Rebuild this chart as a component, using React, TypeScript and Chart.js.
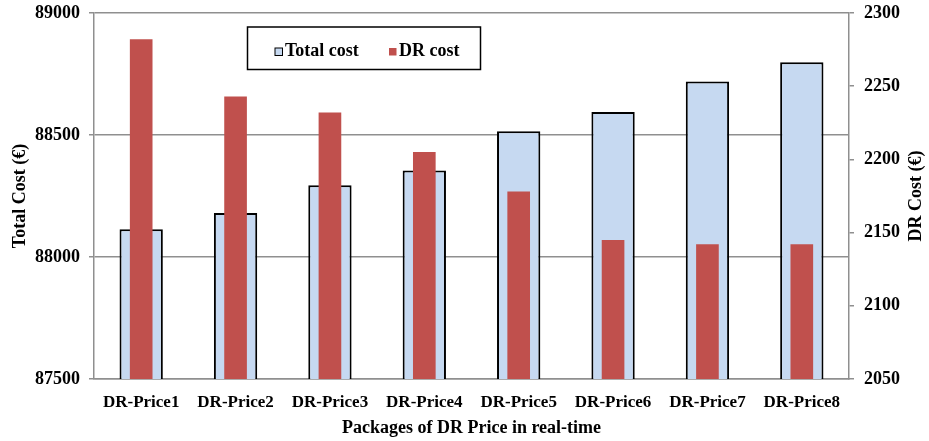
import React, { useEffect, useRef } from "react";
import { Chart, registerables } from "chart.js";

Chart.register(...registerables);

const categories = ["DR-Price1", "DR-Price2", "DR-Price3", "DR-Price4", "DR-Price5", "DR-Price6", "DR-Price7", "DR-Price8"];
const totalCost = [88114, 88180, 88294, 88354, 88515, 88594, 88719, 88798];
const drCost = [2282, 2243, 2232, 2205, 2178, 2145, 2142, 2142];
const seriesNames = ["Total cost", "DR cost"];
const leftTitle = "Total Cost (€)";
const rightTitle = "DR Cost (€)";
const xTitle = "Packages of DR Price in real-time";

const FONT = "'Liberation Serif', 'Times New Roman', serif";
const GRID = "#8f8f8f";
const BLUE = "#c6d9f1";
const RED = "#c0504d";

const overlayPlugin = {
  id: "overlay",
  afterDraw(chart: any) {
    const ctx = chart.ctx as CanvasRenderingContext2D;
    const area = chart.chartArea;
    ctx.save();
    // axis titles
    ctx.fillStyle = "#000";
    ctx.font = `bold 18px ${FONT}`;
    ctx.textAlign = "center";
    ctx.textBaseline = "middle";
    ctx.fillText(xTitle, (area.left + area.right) / 2, 428);
    ctx.save();
    ctx.translate(20, (area.top + area.bottom) / 2);
    ctx.rotate(-Math.PI / 2);
    ctx.fillText(leftTitle, 0, 0);
    ctx.restore();
    ctx.save();
    ctx.translate(916, (area.top + area.bottom) / 2);
    ctx.rotate(-Math.PI / 2);
    ctx.fillText(rightTitle, 0, 0);
    ctx.restore();

    // legend box
    const bx = 247.5, by = 27, bw = 233, bh = 42.5;
    ctx.fillStyle = "#fff";
    ctx.fillRect(bx, by, bw, bh);
    ctx.strokeStyle = "#000";
    ctx.lineWidth = 1.5;
    ctx.strokeRect(bx, by, bw, bh);

    ctx.font = `bold 18px ${FONT}`;
    ctx.textAlign = "left";
    ctx.textBaseline = "alphabetic";
    // Total cost marker
    ctx.fillStyle = BLUE;
    ctx.fillRect(275, 48, 7.5, 7.5);
    ctx.lineWidth = 1;
    ctx.strokeStyle = "#000";
    ctx.strokeRect(275, 48, 7.5, 7.5);
    ctx.fillStyle = "#000";
    ctx.fillText(seriesNames[0], 285, 55.5);
    // DR cost marker
    ctx.fillStyle = RED;
    ctx.fillRect(389, 48, 7.5, 7.5);
    ctx.fillStyle = "#000";
    ctx.fillText(seriesNames[1], 399, 55.5);
    ctx.restore();
  },
};

export default function App() {
  const canvasRef = useRef<HTMLCanvasElement | null>(null);

  useEffect(() => {
    if (!canvasRef.current) return;
    const tickFont = { family: FONT, size: 18, weight: "bold" as const };
    const plain = (v: any) => String(v);
    const chart = new Chart(canvasRef.current, {
      type: "bar",
      data: {
        labels: categories,
        datasets: [
          {
            label: seriesNames[0],
            data: totalCost,
            yAxisID: "y",
            order: 2,
            grouped: false,
            backgroundColor: BLUE,
            borderColor: "#000",
            borderWidth: 2,
            barPercentage: 0.459,
            categoryPercentage: 1,
          },
          {
            label: seriesNames[1],
            data: drCost,
            yAxisID: "y1",
            order: 1,
            grouped: false,
            backgroundColor: RED,
            borderWidth: 0,
            barPercentage: 0.24,
            categoryPercentage: 1,
          },
        ],
      },
      options: {
        animation: false,
        responsive: false,
        maintainAspectRatio: false,
        layout: { padding: { top: 13, left: 0, right: 0, bottom: 0 } },
        plugins: { legend: { display: false }, tooltip: { enabled: false } },
        scales: {
          x: {
            type: "category",
            grid: { display: false, drawTicks: false },
            border: { display: true, color: GRID, width: 1.5 },
            ticks: { font: { family: FONT, size: 17, weight: "bold" }, color: "#000", padding: 13, maxRotation: 0, autoSkip: false },
            afterFit(s: any) { s.height = 62; s.paddingLeft = 0; s.paddingRight = 0; },
          },
          y: {
            position: "left",
            min: 87500,
            max: 89000,
            ticks: { stepSize: 500, font: tickFont, color: "#000", padding: 9, callback: plain },
            grid: { color: GRID, lineWidth: 1.5, tickLength: 5 },
            border: { display: true, color: GRID, width: 1.5 },
            afterFit(s: any) { s.width = 94; s.paddingTop = 0; s.paddingBottom = 0; },
          },
          y1: {
            position: "right",
            min: 2050,
            max: 2300,
            ticks: { stepSize: 50, font: tickFont, color: "#000", padding: 10, callback: plain },
            grid: { drawOnChartArea: false, color: GRID, lineWidth: 1.5, tickLength: 5 },
            border: { display: true, color: GRID, width: 1.5 },
            afterFit(s: any) { s.width = 80; s.paddingTop = 0; s.paddingBottom = 0; },
          },
        },
      },
      plugins: [overlayPlugin],
    });
    return () => chart.destroy();
  }, []);

  return (
    <div style={{ position: "absolute", left: 0, top: 0, width: 929, height: 441, background: "#fff" }}>
      <canvas ref={canvasRef} width={929} height={441} style={{ width: 929, height: 441 }} />
    </div>
  );
}
